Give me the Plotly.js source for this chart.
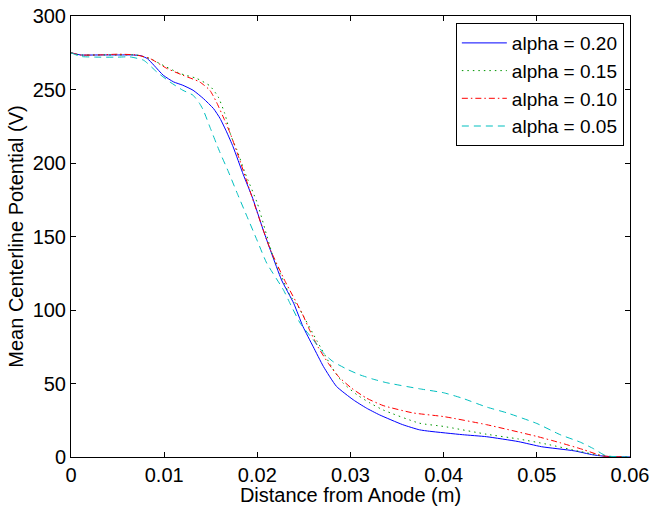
<!DOCTYPE html>
<html>
<head>
<meta charset="utf-8">
<script src="https://cdn.plot.ly/plotly-3.0.1.min.js"></script>
<style>html,body{margin:0;padding:0;background:#fff;}#chart{width:652px;height:506px;}</style>
</head>
<body>
<div id="chart"></div>
<script>
// Series names
const seriesNames = ["alpha = 0.20", "alpha = 0.15", "alpha = 0.10", "alpha = 0.05"];

// alpha = 0.20 (blue, solid)
const x020 = [0, 0.001, 0.003, 0.005, 0.0065, 0.0075, 0.0082, 0.0089, 0.0099, 0.011, 0.012, 0.0131, 0.0142, 0.0153, 0.016, 0.0167, 0.0174, 0.0185, 0.0195, 0.0206, 0.0215, 0.0226, 0.0239, 0.0249, 0.026, 0.0271, 0.0285, 0.0303, 0.0317, 0.0331, 0.0356, 0.0374, 0.0385, 0.042, 0.0446, 0.048, 0.0505, 0.054, 0.056, 0.057, 0.058, 0.06];
const y020 = [275, 273.5, 273.5, 273.5, 273.5, 273, 271, 266.5, 259.7, 255.2, 252.9, 249.5, 243.9, 237, 230.3, 221.2, 211, 192, 176, 155, 139, 120.4, 104.6, 88.7, 75, 61.5, 48, 38.9, 33.3, 28.7, 22, 18.5, 17.5, 15.2, 13.8, 10.5, 7, 4.2, 1.5, 0.7, 0.2, 0];

// alpha = 0.15 (green, dotted)
const x015 = [0, 0.001, 0.003, 0.005, 0.007, 0.0085, 0.0095, 0.0117, 0.0135, 0.0149, 0.0158, 0.0165, 0.0172, 0.0178, 0.0187, 0.02, 0.0217, 0.0235, 0.0244, 0.0264, 0.0281, 0.0292, 0.0307, 0.0321, 0.0335, 0.0374, 0.04, 0.0446, 0.048, 0.051, 0.0546, 0.0565, 0.058, 0.06];
const y015 = [275, 273.5, 273.5, 273.5, 273.5, 271, 267.7, 260.9, 257.5, 252.5, 245, 233.7, 218, 209, 193, 172.6, 136.3, 110, 102, 79, 60, 50.3, 42.3, 36.7, 32, 23, 20.8, 15.5, 12.3, 8.8, 3.8, 1.4, 0.3, 0];

// alpha = 0.10 (red, dash-dot)
const x010 = [0, 0.001, 0.003, 0.005, 0.007, 0.0085, 0.0103, 0.012, 0.0138, 0.0149, 0.0156, 0.0165, 0.0171, 0.018, 0.019, 0.02, 0.0214, 0.023, 0.0248, 0.0256, 0.0265, 0.0276, 0.0287, 0.0301, 0.0317, 0.0335, 0.0367, 0.04, 0.0446, 0.05, 0.0525, 0.055, 0.057, 0.058, 0.06];
const y010 = [275, 273.5, 273.5, 274, 273.5, 271, 264.3, 259.7, 255.2, 249.5, 241.6, 229, 220, 204, 185, 166, 141, 119.3, 97.8, 86.5, 75, 63.9, 54.8, 46.9, 40.1, 35, 30, 27.5, 22, 14, 9.7, 5, 0.8, 0.3, 0];

// alpha = 0.05 (cyan, dashed)
const x005 = [0, 0.001, 0.003, 0.005, 0.0063, 0.0078, 0.0092, 0.0106, 0.012, 0.0131, 0.0138, 0.0142, 0.0149, 0.0156, 0.016, 0.0169, 0.0178, 0.0189, 0.02, 0.021, 0.0228, 0.0235, 0.0246, 0.026, 0.0271, 0.0281, 0.0296, 0.031, 0.0324, 0.0339, 0.0374, 0.04, 0.042, 0.0446, 0.0468, 0.05, 0.0525, 0.0547, 0.0561, 0.0572, 0.058, 0.06];
const y005 = [275, 272.5, 272, 272, 272.2, 269.9, 262, 255.2, 249.5, 246.1, 240.5, 236, 224.6, 213.3, 207, 194, 180, 163.5, 147, 132, 113.7, 104.6, 91, 79.7, 70.7, 65, 59.8, 55.9, 53, 50.5, 46.4, 43.7, 40, 34, 30, 22.8, 15.2, 10, 5.6, 1.5, 0.4, 0];

// Axis ticks
const xTicks = [0, 0.01, 0.02, 0.03, 0.04, 0.05, 0.06];
const xTickLabels = ["0", "0.01", "0.02", "0.03", "0.04", "0.05", "0.06"];
const yTicks = [0, 50, 100, 150, 200, 250, 300];
const yTickLabels = ["0", "50", "100", "150", "200", "250", "300"];

const FONT = "Liberation Sans, Arial, Helvetica, sans-serif";

const traces = [
  {x: x020, y: y020, name: seriesNames[0], mode: "lines", line: {color: "rgb(0,0,255)", width: 1, dash: "solid", shape: "spline", smoothing: 0.5}},
  {x: x015, y: y015, name: seriesNames[1], mode: "lines", line: {color: "rgb(0,150,0)", width: 1, dash: "1.5px,4px", shape: "spline", smoothing: 0.5}},
  {x: x010, y: y010, name: seriesNames[2], mode: "lines", line: {color: "rgb(255,0,0)", width: 1, dash: "6px,3px,1.5px,3px", shape: "spline", smoothing: 0.5}},
  {x: x005, y: y005, name: seriesNames[3], mode: "lines", line: {color: "rgb(0,191,191)", width: 1, dash: "7px,5px", shape: "spline", smoothing: 0.5}}
];

const layout = {
  width: 652, height: 506,
  margin: {l: 71, r: 22, t: 16, b: 49, pad: 0},
  paper_bgcolor: "#fff", plot_bgcolor: "#fff",
  font: {family: FONT, size: 20, color: "#000"},
  showlegend: true,
  legend: {
    x: 0.989, y: 0.984, xanchor: "right", yanchor: "top",
    bgcolor: "#fff", bordercolor: "#000", borderwidth: 1,
    font: {family: FONT, size: 19, color: "#000"},
    itemwidth: 45, tracegroupgap: 0
  },
  xaxis: {
    range: [0, 0.06], tickvals: xTicks, ticktext: xTickLabels,
    ticks: "inside", ticklen: 5, tickcolor: "#000", tickwidth: 1,
    showline: true, linecolor: "#000", linewidth: 1, mirror: "ticks",
    showgrid: false, zeroline: false,
    title: {text: "Distance from Anode (m)", font: {family: FONT, size: 20, color: "#000"}, standoff: 1},
    tickfont: {family: FONT, size: 20, color: "#000"}
  },
  yaxis: {
    range: [0, 300], tickvals: yTicks, ticktext: yTickLabels,
    ticks: "inside", ticklen: 5, tickcolor: "#000", tickwidth: 1,
    showline: true, linecolor: "#000", linewidth: 1, mirror: "ticks",
    showgrid: false, zeroline: false,
    title: {text: "Mean Centerline Potential (V)", font: {family: FONT, size: 20, color: "#000"}, standoff: 3},
    tickfont: {family: FONT, size: 20, color: "#000"}
  }
};

Plotly.newPlot("chart", traces, layout, {staticPlot: true, displayModeBar: false});
</script>
</body>
</html>
